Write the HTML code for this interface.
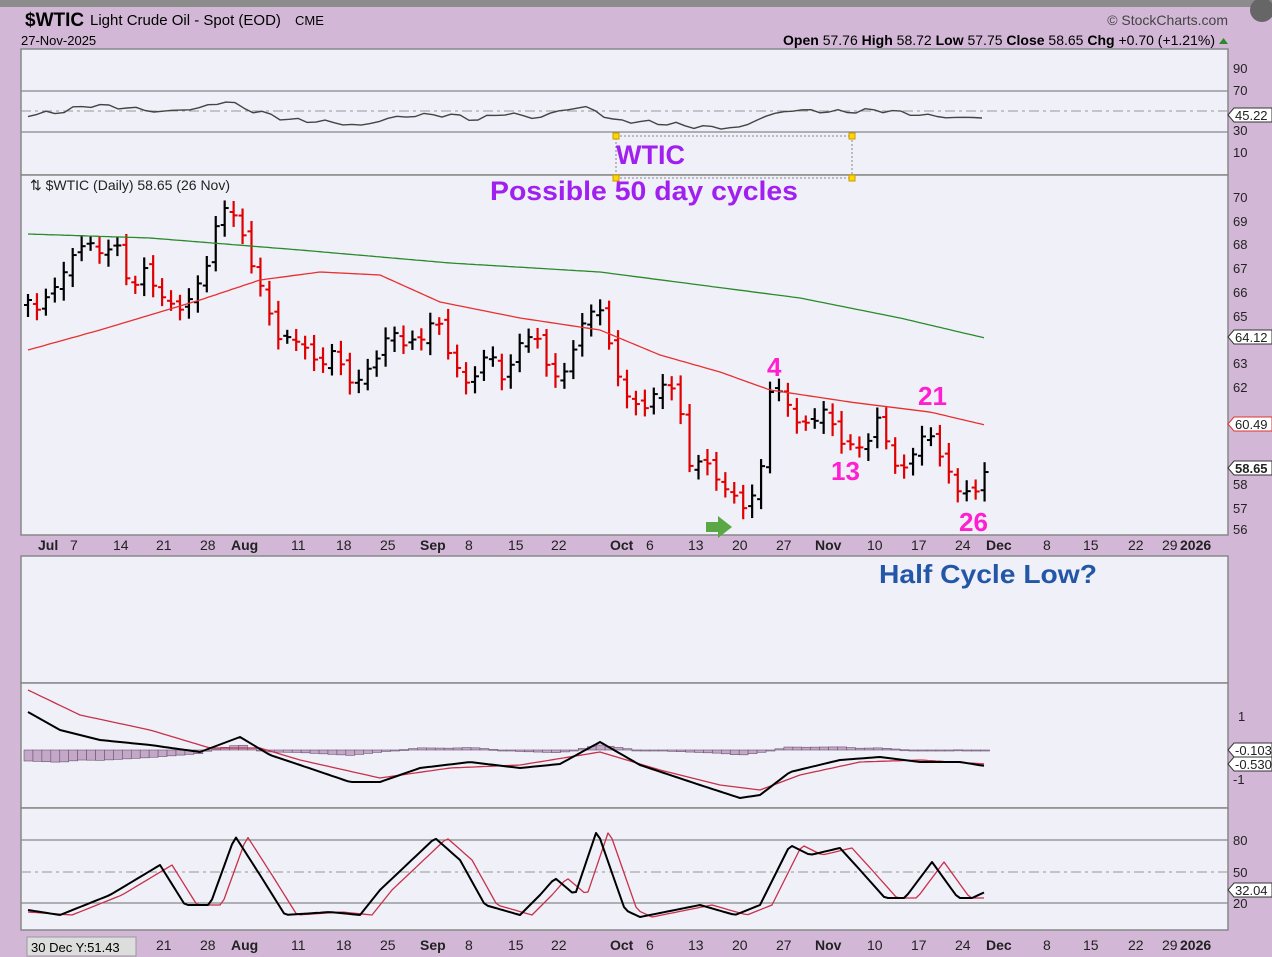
<!DOCTYPE html>
<html><head><meta charset="utf-8">
<style>
body{margin:0;width:1272px;height:957px;overflow:hidden;background:#d3b7d7;font-family:"Liberation Sans",sans-serif}
svg{position:absolute;left:0;top:0}
</style></head><body>
<svg id="s" width="1272" height="957" xmlns="http://www.w3.org/2000/svg" font-family="Liberation Sans, sans-serif">
<rect x="0" y="0" width="1272" height="7" fill="#8c8c8c"/>
<rect x="0" y="7" width="1272" height="950" fill="#d3b7d7"/>
<rect x="21" y="49" width="1207" height="126" fill="#eff0f8" stroke="#888" stroke-width="1.5"/>
<rect x="21" y="175" width="1207" height="360" fill="#eff0f8" stroke="#888" stroke-width="1.5"/>
<rect x="21" y="556" width="1207" height="127" fill="#eff0f8" stroke="#888" stroke-width="1.5"/>
<rect x="21" y="683" width="1207" height="125" fill="#eff0f8" stroke="#888" stroke-width="1.5"/>
<rect x="21" y="808" width="1207" height="122" fill="#eff0f8" stroke="#888" stroke-width="1.5"/>
<line x1="21" y1="91" x2="1228" y2="91" stroke="#888" stroke-width="1.2"/>
<line x1="21" y1="132" x2="1228" y2="132" stroke="#888" stroke-width="1.2"/>
<line x1="21" y1="111" x2="1228" y2="111" stroke="#999" stroke-dasharray="10,4,3,4"/>
<line x1="21" y1="840" x2="1228" y2="840" stroke="#888" stroke-width="1.2"/>
<line x1="21" y1="903" x2="1228" y2="903" stroke="#888" stroke-width="1.2"/>
<line x1="21" y1="872" x2="1228" y2="872" stroke="#999" stroke-dasharray="10,4,3,4"/>
<g id="dyn"></g>
<text x="25" y="26" font-size="19" font-weight="bold">$WTIC</text>
<text x="90" y="25" font-size="15">Light Crude Oil - Spot (EOD)</text>
<text x="295" y="25" font-size="13">CME</text>
<text x="21" y="45" font-size="13">27-Nov-2025</text>
<text x="1228" y="25" font-size="14" text-anchor="end" fill="#444">© StockCharts.com</text>
<text x="1215" y="45" font-size="14" text-anchor="end"><tspan font-weight="bold">Open</tspan> 57.76 <tspan font-weight="bold">High</tspan> 58.72 <tspan font-weight="bold">Low</tspan> 57.75 <tspan font-weight="bold">Close</tspan> 58.65 <tspan font-weight="bold">Chg</tspan> +0.70 (+1.21%)</text>
<polygon points="1219,44 1228,44 1223.5,38" fill="#2a8a2a"/>
<circle cx="1262" cy="10" r="12" fill="#666"/>
<text x="30" y="190" font-size="14" fill="#222">⇅ $WTIC (Daily) 58.65 (26 Nov)</text>
<rect x="616" y="136" width="236" height="42" fill="none" stroke="#888" stroke-dasharray="2,2"/>
<rect x="613" y="133" width="6" height="6" fill="#ffd700" stroke="#c90"/>
<rect x="849" y="133" width="6" height="6" fill="#ffd700" stroke="#c90"/>
<rect x="613" y="175" width="6" height="6" fill="#ffd700" stroke="#c90"/>
<rect x="849" y="175" width="6" height="6" fill="#ffd700" stroke="#c90"/>
<text x="616" y="164" font-size="27" font-weight="bold" fill="#a020f0">WTIC</text>
<text x="490" y="200" font-size="27" font-weight="bold" fill="#a020f0" textLength="308" lengthAdjust="spacingAndGlyphs">Possible 50 day cycles</text>
<g font-size="26" font-weight="bold" fill="#ff1fd0">
<text x="767" y="376">4</text><text x="918" y="405">21</text><text x="831" y="480">13</text><text x="959" y="531">26</text></g>
<text x="879" y="583" font-size="26" font-weight="bold" fill="#2456a8" textLength="218" lengthAdjust="spacingAndGlyphs">Half Cycle Low?</text>
<polygon points="706,522 718,522 718,516 732,527 718,538 718,532 706,532" fill="#5aa845"/>
<g font-size="13" fill="#222">
<text x="1233" y="73">90</text><text x="1233" y="95">70</text><text x="1233" y="135">30</text><text x="1233" y="157">10</text>
<text x="1233" y="202">70</text><text x="1233" y="226">69</text><text x="1233" y="249">68</text><text x="1233" y="273">67</text><text x="1233" y="297">66</text><text x="1233" y="321">65</text><text x="1233" y="368">63</text><text x="1233" y="392">62</text><text x="1233" y="489">58</text><text x="1233" y="513">57</text><text x="1233" y="534">56</text>
<text x="1238" y="721">1</text><text x="1233" y="784">-1</text>
<text x="1233" y="845">80</text><text x="1233" y="877">50</text><text x="1233" y="908">20</text>
</g>
<g font-size="13" stroke="#333" stroke-width="1">
<polygon points="1228,115 1234,108 1272,108 1272,122 1234,122" fill="#fff"/>
<polygon points="1228,337 1234,330 1272,330 1272,344 1234,344" fill="#fff"/>
<polygon points="1228,424 1234,417 1272,417 1272,431 1234,431" fill="#fff" stroke="#d33"/>
<polygon points="1228,468 1234,461 1272,461 1272,475 1234,475" fill="#fff"/>
<polygon points="1228,750 1234,743 1272,743 1272,757 1234,757" fill="#fff"/>
<polygon points="1228,764 1234,757 1272,757 1272,771 1234,771" fill="#fff"/>
<polygon points="1228,890 1234,883 1272,883 1272,897 1234,897" fill="#fff"/>
</g>
<g font-size="13" fill="#222">
<text x="1235" y="120">45.22</text><text x="1235" y="342">64.12</text><text x="1235" y="429">60.49</text><text x="1235" y="473" font-weight="bold">58.65</text><text x="1235" y="755">-0.103</text><text x="1235" y="769">-0.530</text><text x="1235" y="895">32.04</text>
</g>
<g id="xl1" font-size="14" fill="#222"></g>
<rect x="27" y="937" width="109" height="19" fill="#ddd" stroke="#999"/>
<text x="31" y="952" font-size="13">30 Dec Y:51.43</text>
</svg>
<script>
var NS="http://www.w3.org/2000/svg",g=document.getElementById('dyn');
function el(t,a,p){var e=document.createElementNS(NS,t);for(var k in a)e.setAttribute(k,a[k]);(p||g).appendChild(e);return e}
function interp(k,x){for(var i=0;i<k.length-1;i++){if(x<=k[i+1][0]){var t=(x-k[i][0])/(k[i+1][0]-k[i][0]);return k[i][1]+t*(k[i+1][1]-k[i][1])}}return k[k.length-1][1]}
function path(k,st,w,noise,step){step=step||4;var d="";for(var x=k[0][0];x<=k[k.length-1][0];x+=step){var y=interp(k,x)+(noise?noise*Math.sin(x*0.5)+noise*0.6*Math.sin(x*0.23):0);d+=(d?"L":"M")+x+","+y.toFixed(1)}el('path',{d:d,fill:'none',stroke:st,'stroke-width':w,'stroke-linejoin':'round'})}
var labs=[["Jul",38,1],["7",70],["14",113],["21",156],["28",200],["Aug",231,1],["11",291],["18",336],["25",380],["Sep",420,1],["8",465],["15",508],["22",551],["Oct",610,1],["6",646],["13",688],["20",732],["27",776],["Nov",815,1],["10",867],["17",911],["24",955],["Dec",986,1],["8",1043],["15",1083],["22",1128],["29",1162],["2026",1180,1]];
labs.forEach(function(l){[550,950].forEach(function(y){if(y==950&&l[1]<140)return;var t=el('text',{x:l[1],y:y,'font-size':14,'font-weight':l[2]?'bold':'normal',fill:'#222'},document.getElementById('xl1'));t.textContent=l[0]})});
var pk=[[28,300],[40,310],[55,285],[70,262],[85,238],[100,255],[115,240],[130,290],[145,270],[160,295],[175,310],[190,300],[205,270],[222,205],[235,215],[248,255],[262,290],[275,335],[290,340],[305,345],[318,370],[332,350],[345,375],[355,385],[368,370],[380,350],[392,330],[405,345],[420,340],[435,315],[450,355],[465,385],[478,370],[490,350],[505,385],[520,340],[535,335],[550,370],[560,385],[572,350],[585,320],[598,300],[610,350],[625,395],[640,410],[655,395],[668,378],[678,400],[688,465],[700,460],[712,470],[725,490],[738,500],[748,510],[760,475],[770,390],[780,395],[790,405],[800,430],[812,420],[825,410],[840,440],[855,450],[868,440],[880,415],[893,465],[905,470],[918,440],[930,435],[943,460],[955,490],[967,490],[977,495],[985,468]];
var prev=null;
for(var i=0;i<=107;i++){var x=28+i*8.94;if(x>986)break;var c=interp(pk,x)+3*Math.sin(i*2.3);var o=prev==null?c+5:prev+4*Math.sin(i*1.7);var hi=Math.min(o,c)-6-5*Math.abs(Math.sin(i*1.3));var lo=Math.max(o,c)+6+6*Math.abs(Math.cos(i*0.7));var col=(prev!=null&&c>prev)?'#e00000':'#000';
el('line',{x1:x,y1:hi,x2:x,y2:lo,stroke:col,'stroke-width':2.2});el('line',{x1:x-4,y1:o,x2:x,y2:o,stroke:col,'stroke-width':2});el('line',{x1:x,y1:c,x2:x+4,y2:c,stroke:col,'stroke-width':2});prev=c}
path([[28,350],[100,330],[200,300],[260,280],[320,272],[380,275],[440,302],[520,318],[600,330],[660,355],[720,372],[770,390],[850,402],[930,412],[985,425]],'#e83030',1.3);
path([[28,234],[150,238],[300,250],[450,263],[600,272],[700,285],[800,298],[900,318],[985,338]],'#2a8a2a',1.3);
path([[28,115],[60,112],[90,105],[130,108],[160,112],[200,108],[225,101],[250,110],[290,120],[330,122],[360,126],[390,118],[420,115],[450,115],[480,120],[500,113],[540,118],[560,110],[590,107],[610,120],[660,123],[700,127],[740,128],[760,118],[790,110],[840,112],[880,110],[920,115],[960,118],[985,117]],'#444',1.4,1.5,9);
var mb=[[28,712],[60,730],[100,740],[150,745],[200,752],[240,737],[270,755],[300,765],[350,782],[380,782],[420,768],[470,762],[520,768],[560,764],[600,742],[640,765],[700,785],[740,798],[760,795],[790,772],[840,760],[880,757],[920,762],[960,762],[985,766]];
var mr=[[28,690],[80,715],[150,730],[210,748],[260,748],[300,760],[380,778],[450,768],[520,765],[600,752],[660,770],[720,785],[760,790],[800,775],[860,762],[920,760],[985,764]];
for(var x=28;x<=985;x+=8.94){var h=(interp(mb,x)-interp(mr,x))*0.5;var y=Math.min(750,750+h),hh=Math.abs(h);el('rect',{x:x-4,y:y,width:8.94,height:Math.max(hh,1),fill:'#c4a8c8',stroke:'#6a5070','stroke-width':0.6})}
path(mr,'#c8304a',1.3);path(mb,'#000',2);
var sb=[[28,910],[60,915],[110,895],[160,865],[185,905],[210,905],[235,836],[260,875],[285,915],[330,912],[360,915],[380,890],[435,838],[460,860],[485,905],[520,915],[540,895],[555,878],[575,895],[597,830],[625,910],[640,917],[700,905],[735,915],[760,905],[790,845],[810,855],[840,848],[860,870],[885,898],[905,898],[932,862],[958,898],[972,898],[985,892]];
var sr=sb.map(function(p){return [p[0]+12,p[1]]});sr[0]=[28,912];sr[sr.length-1]=[985,898];
path(sr,'#c8304a',1.3);path(sb,'#000',2);
</script>
</body></html>
